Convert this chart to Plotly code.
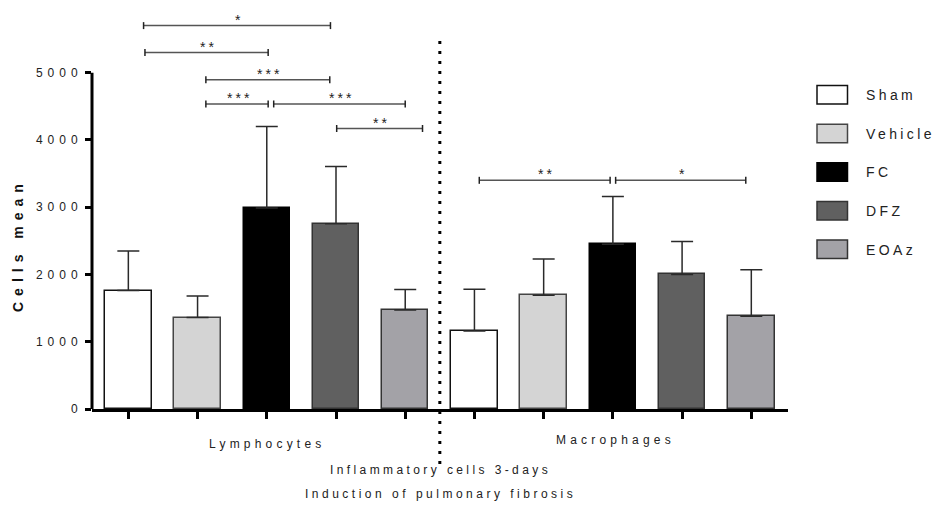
import plotly.graph_objects as go

# ---------------- data ----------------
categories = ["Lymphocytes", "Macrophages"]
groups = ["Sham", "Vehicle", "FC", "DFZ", "EOAz"]

sham_mean = [1760, 1160]
sham_err = [590, 620]
vehicle_mean = [1360, 1690]
vehicle_err = [320, 540]
fc_mean = [2990, 2450]
fc_err = [1210, 710]
dfz_mean = [2755, 2000]
dfz_err = [850, 490]
eoaz_mean = [1470, 1380]
eoaz_err = [305, 690]

y_tick_values = [0, 1000, 2000, 3000, 4000, 5000]
y_title = "Cells mean"
x_title = "Inflammatory cells 3-days"
x_subtitle = "Induction of pulmonary fibrosis"

# significance comparisons (left slot, right slot, level, label)
sig_left = [0.22, 0.24, 1.12, 1.12, 2.10, 3.01, 5.07, 7.04]
sig_right = [2.92, 2.02, 2.91, 2.02, 4.00, 4.25, 6.96, 8.92]
sig_level = [5700, 5300, 4895, 4535, 4535, 4170, 3400, 3400]
sig_label = ["*", "**", "***", "***", "***", "**", "**", "*"]

# ---------------- styles ----------------
means = [sham_mean, vehicle_mean, fc_mean, dfz_mean, eoaz_mean]
errs = [sham_err, vehicle_err, fc_err, dfz_err, eoaz_err]
fills = ["#ffffff", "#d4d4d4", "#000000", "#606060", "#a3a2a7"]
outlines = ["#111111", "#444444", "#000000", "#333333", "#333333"]
FONT = "Liberation Sans, Arial, sans-serif"
TXT = "#222222"

W, H = 939, 507
L, R, T, B = 92, 151, 10, 98
PW, PH = W - L - R, H - T - B
YMAX = 5932


def px_x(x):
    return (x - L) / PW


def px_y(y):
    return (H - B - y) / PH


def spaced(s, ls):
    return f'<span style="letter-spacing:{ls}px">{s}</span>'


n_groups = len(groups)
fig = go.Figure()
for j, g in enumerate(groups):
    xs = [c * n_groups + j for c in range(len(categories))]
    fig.add_trace(go.Bar(
        x=xs, y=means[j], width=0.67, name=g,
        marker=dict(color=fills[j], line=dict(color=outlines[j], width=1.5)),
        error_y=dict(type="data", array=errs[j], arrayminus=[0] * len(xs),
                     symmetric=False, color="#2a2a2a", thickness=1.5, width=11),
        showlegend=False,
    ))

shapes = []
annotations = []

# y axis line (only up to top tick)
shapes.append(dict(type="line", xref="paper", yref="y", x0=0, x1=0,
                   y0=0, y1=y_tick_values[-1], line=dict(color="black", width=3)))

# separator between categories
shapes.append(dict(type="line", xref="x", yref="paper",
                   x0=n_groups - 0.5, x1=n_groups - 0.5,
                   y0=px_y(41), y1=px_y(468),
                   line=dict(color="black", width=3, dash="3px,7px")))

# significance brackets
tick_h = 52
for x0, x1, yv, lab in zip(sig_left, sig_right, sig_level, sig_label):
    shapes.append(dict(type="line", xref="x", yref="y", x0=x0, x1=x1, y0=yv, y1=yv,
                       line=dict(color="#555555", width=1.5)))
    for xe in (x0, x1):
        shapes.append(dict(type="line", xref="x", yref="y", x0=xe, x1=xe,
                           y0=yv - tick_h, y1=yv + tick_h,
                           line=dict(color="#222222", width=1.5)))
    annotations.append(dict(xref="x", yref="y", x=(x0 + x1) / 2, y=yv,
                            text=spaced(lab, 3), showarrow=False, xshift=2,
                            yanchor="bottom", yshift=-4,
                            font=dict(family=FONT, size=14, color=TXT)))

# legend
for j, g in enumerate(groups):
    top = 85.5 + 38.65 * j
    shapes.append(dict(type="rect", xref="paper", yref="paper",
                       x0=px_x(817), x1=px_x(847.5), y0=px_y(top), y1=px_y(top + 18.5),
                       fillcolor=fills[j], line=dict(color=outlines[j], width=1.5)))
    annotations.append(dict(xref="paper", yref="paper", x=px_x(864), y=px_y(top + 9.5),
                            xanchor="left", yanchor="middle", showarrow=False,
                            text=spaced(g, 3.4),
                            font=dict(family=FONT, size=14, color=TXT)))

# category labels
cat_px = [(265, 444), (613, 440)]
for c, (cx, cy) in zip(categories, cat_px):
    annotations.append(dict(xref="paper", yref="paper", x=px_x(cx + 2), y=px_y(cy),
                            xanchor="center", yanchor="middle", showarrow=False,
                            text=spaced(c, 4.2),
                            font=dict(family=FONT, size=12, color=TXT)))

annotations.append(dict(xref="paper", yref="paper", x=px_x(440), y=px_y(470),
                        xanchor="center", yanchor="middle", showarrow=False,
                        text=spaced(x_title, 3.4),
                        font=dict(family=FONT, size=12, color=TXT)))
annotations.append(dict(xref="paper", yref="paper", x=px_x(440), y=px_y(494),
                        xanchor="center", yanchor="middle", showarrow=False,
                        text=spaced(x_subtitle, 3.5),
                        font=dict(family=FONT, size=12, color=TXT)))

# y title
annotations.append(dict(xref="paper", yref="paper", x=px_x(18), y=px_y(245),
                        xanchor="center", yanchor="middle", showarrow=False,
                        textangle=-90, text="<b>" + spaced(y_title, 6) + "</b>",
                        font=dict(family=FONT, size=14, color="#111111")))

fig.update_layout(
    width=W, height=H,
    margin=dict(l=L, r=R, t=T, b=B),
    plot_bgcolor="white", paper_bgcolor="white",
    bargap=0, showlegend=False,
    shapes=shapes, annotations=annotations,
    xaxis=dict(range=[-0.525, 9.53], showgrid=False, zeroline=False,
               showline=True, linewidth=3, linecolor="black",
               ticks="outside", ticklen=7, tickwidth=2.5, tickcolor="black",
               tickvals=list(range(len(categories) * n_groups)),
               showticklabels=False, fixedrange=True),
    yaxis=dict(range=[0, YMAX], showgrid=False, zeroline=False, showline=False,
               ticks="outside", ticklen=6, tickwidth=2.5, tickcolor="black",
               tickvals=y_tick_values,
               ticktext=[spaced(str(v), 5) for v in y_tick_values],
               tickfont=dict(family=FONT, size=12, color=TXT),
               fixedrange=True),
)

fig.write_html("out.html")
